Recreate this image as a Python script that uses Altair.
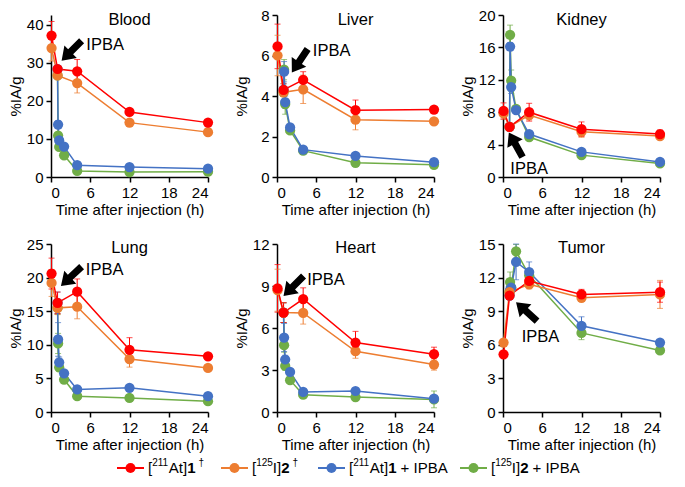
import altair as alt
import pandas as pd

FONT = "Liberation Sans"

SERIES = ["At1", "I2", "At1+IPBA", "I2+IPBA"]
COLORS = ["#FF0000", "#ED7D31", "#4472C4", "#70AD47"]

# time points (h)
T_CTRL = [0.083, 1, 4, 12, 24]
T_IPBA = [1, 1.083, 1.25, 2, 4, 12, 24]

# ---------------- data (%IA/g, mean and SD) ----------------
blood_at = [37.2, 28.4, 27.8, 17.1, 14.3]
blood_at_sd = [3.7, 0.9, 3.1, 0.9, 0.5]
blood_i = [33.9, 26.7, 24.7, 14.3, 11.8]
blood_i_sd = [3.4, 0.8, 2.6, 0.8, 0.4]
blood_at_ipba = [28.4, 13.8, 9.6, 8.0, 3.1, 2.6, 2.2]
blood_at_ipba_sd = [0.9, 1.0, 0.8, 0.6, 0.4, 0.3, 0.2]
blood_i_ipba = [26.7, 10.9, 7.9, 5.7, 1.6, 1.3, 1.4]
blood_i_ipba_sd = [0.8, 0.9, 0.6, 0.5, 0.2, 0.2, 0.1]

liver_at = [6.45, 4.3, 4.8, 3.3, 3.33]
liver_at_sd = [1.1, 0.3, 0.4, 0.5, 0.1]
liver_i = [6.0, 4.18, 4.33, 2.83, 2.75]
liver_i_sd = [1.0, 0.2, 0.7, 0.5, 0.1]
liver_at_ipba = [4.3, 5.2, 3.7, 2.45, 1.35, 1.04, 0.73]
liver_at_ipba_sd = [0.3, 0.5, 0.3, 0.15, 0.1, 0.1, 0.1]
liver_i_ipba = [4.18, 5.3, 3.6, 2.3, 1.3, 0.7, 0.6]
liver_i_ipba_sd = [0.2, 0.5, 0.5, 0.15, 0.1, 0.1, 0.05]

kidney_at = [8.15, 6.2, 8.0, 5.9, 5.3]
kidney_at_sd = [1.0, 0.3, 1.1, 0.9, 0.5]
kidney_i = [7.85, 6.2, 7.65, 5.6, 5.05]
kidney_i_sd = [0.7, 0.3, 0.6, 0.7, 0.4]
kidney_at_ipba = [6.2, 16.1, 11.1, 8.27, 5.3, 3.1, 1.86]
kidney_at_ipba_sd = [0.3, 0.5, 0.8, 0.4, 0.3, 0.2, 0.1]
kidney_i_ipba = [6.2, 17.55, 11.9, 8.4, 4.93, 2.7, 1.67]
kidney_i_ipba_sd = [0.3, 1.2, 1.3, 0.4, 0.3, 0.2, 0.1]

lung_at = [20.6, 16.25, 17.9, 9.26, 8.28]
lung_at_sd = [2.3, 1.6, 1.9, 1.8, 0.3]
lung_i = [19.2, 15.5, 15.67, 7.88, 6.55]
lung_i_sd = [2.0, 1.0, 1.8, 1.2, 0.3]
lung_at_ipba = [16.25, 10.8, 7.4, 5.76, 3.35, 3.6, 2.36]
lung_at_ipba_sd = [1.6, 2.5, 0.8, 0.4, 0.3, 0.3, 0.2]
lung_i_ipba = [15.5, 10.2, 6.65, 4.83, 2.36, 2.1, 1.6]
lung_i_ipba_sd = [1.0, 1.5, 0.6, 0.4, 0.2, 0.2, 0.1]

heart_at = [8.83, 7.1, 8.07, 4.96, 4.13]
heart_at_sd = [1.7, 0.7, 0.8, 0.8, 0.5]
heart_i = [8.7, 7.1, 7.08, 4.34, 3.39]
heart_i_sd = [1.5, 0.7, 0.8, 0.5, 0.4]
heart_at_ipba = [7.1, 5.32, 3.75, 2.86, 1.43, 1.5, 0.95]
heart_at_ipba_sd = [0.7, 1.0, 0.3, 0.2, 0.1, 0.1, 0.2]
heart_i_ipba = [7.1, 4.77, 3.29, 2.27, 1.24, 1.07, 0.9]
heart_i_ipba_sd = [0.7, 0.5, 0.3, 0.2, 0.1, 0.1, 0.6]

tumor_at = [5.15, 10.4, 11.7, 10.5, 10.7]
tumor_at_sd = [0.2, 0.3, 0.5, 0.45, 0.9]
tumor_i = [6.2, 10.7, 11.4, 10.2, 10.5]
tumor_i_sd = [0.3, 0.4, 0.4, 0.3, 1.25]
tumor_at_ipba = [10.4, 10.9, 11.1, 13.4, 12.5, 7.7, 6.2]
tumor_at_ipba_sd = [0.3, 0.6, 0.5, 1.6, 0.9, 0.8, 0.2]
tumor_i_ipba = [10.7, 11.6, 11.1, 14.35, 12.2, 7.06, 5.5]
tumor_i_ipba_sd = [0.4, 0.9, 0.6, 0.6, 0.5, 0.6, 0.2]

# panel: name, y max, y ticks, series, arrow (t, v, angle), label (t, v, align)
PANELS = [
    ("Blood", 42.6, [0, 10, 20, 30, 40],
     [(blood_at, blood_at_sd), (blood_i, blood_i_sd), (blood_at_ipba, blood_at_ipba_sd), (blood_i_ipba, blood_i_ipba_sd)],
     (3.15, 33.2, 225), (5.4, 34.7, "left")),
    ("Liver", 8, [0, 2, 4, 6, 8],
     [(liver_at, liver_at_sd), (liver_i, liver_i_sd), (liver_at_ipba, liver_at_ipba_sd), (liver_i_ipba, liver_i_ipba_sd)],
     (3.48, 5.74, 214), (5.48, 6.2, "left")),
    ("Kidney", 20, [0, 4, 8, 12, 16, 20],
     [(kidney_at, kidney_at_sd), (kidney_i, kidney_i_sd), (kidney_at_ipba, kidney_at_ipba_sd), (kidney_i_ipba, kidney_i_ipba_sd)],
     (1.94, 3.98, 331), (4.0, 0.94, "center")),
    ("Lung", 25, [0, 5, 10, 15, 20, 25],
     [(lung_at, lung_at_sd), (lung_i, lung_i_sd), (lung_at_ipba, lung_at_ipba_sd), (lung_i_ipba, lung_i_ipba_sd)],
     (3.1, 20.2, 227), (5.33, 21.15, "left")),
    ("Heart", 12, [0, 3, 6, 9, 12],
     [(heart_at, heart_at_sd), (heart_i, heart_i_sd), (heart_at_ipba, heart_at_ipba_sd), (heart_i_ipba, heart_i_ipba_sd)],
     (2.53, 9.0, 225), (4.62, 9.43, "left")),
    ("Tumor", 15, [0, 3, 6, 9, 12, 15],
     [(tumor_at, tumor_at_sd), (tumor_i, tumor_i_sd), (tumor_at_ipba, tumor_at_ipba_sd), (tumor_i_ipba, tumor_i_ipba_sd)],
     (3.6, 8.96, 312), (5.74, 6.7, "center")),
]

ARROW = "M0,-1L0.62,-0.1L0.25,-0.1L0.25,1L-0.25,1L-0.25,-0.1L-0.62,-0.1Z"

W = 157


def long_df(vals):
    rows = []
    for s_idx in [3, 2, 1, 0]:
        times = T_CTRL if s_idx < 2 else T_IPBA
        v, sd = vals[s_idx]
        for t, y, e in zip(times, v, sd):
            rows.append(dict(series=SERIES[s_idx], t=t, v=y, lo=y - e, hi=y + e, k=len(rows)))
    return pd.DataFrame(rows)


def panel(name, ymax, yticks, vals, arrow, label, h, title_y, spacer):
    df = long_df(vals)
    xs = alt.Scale(domain=[0, 24], nice=False, zero=True)
    ys = alt.Scale(domain=[0, ymax], nice=False, zero=True)
    xaxis = alt.Axis(values=[0, 6, 12, 18, 24], title="Time after injection (h)",
                     labelPadding=3, titlePadding=2)
    yaxis = alt.Axis(values=yticks, title="%IA/g", labelPadding=3, titlePadding=3,
                     minExtent=25, maxExtent=25)
    color = alt.Color("series:N", scale=alt.Scale(domain=SERIES, range=COLORS), legend=None)

    def X(f="t"):
        return alt.X(f + ":Q", scale=xs, axis=xaxis)

    def Y(f="v"):
        return alt.Y(f + ":Q", scale=ys, axis=yaxis)

    base = alt.Chart(df)
    err = base.mark_rule(strokeWidth=1).encode(x=X(), y=Y("lo"), y2="hi:Q", color=color)
    cap_hi = base.mark_tick(orient="horizontal", size=6, thickness=1).encode(x=X(), y=Y("hi"), color=color)
    cap_lo = base.mark_tick(orient="horizontal", size=6, thickness=1).encode(x=X(), y=Y("lo"), color=color)
    line = base.mark_line(strokeWidth=1.5).encode(x=X(), y=Y(), color=color, order="t:Q")
    pts = base.mark_point(filled=True, size=105, opacity=1).encode(x=X(), y=Y(), color=color, order="k:Q")

    adf = pd.DataFrame({"t": [arrow[0]], "v": [arrow[1]]})
    arr = alt.Chart(adf).mark_point(shape=ARROW, size=800, filled=True, color="black",
                                    opacity=1, angle=arrow[2]).encode(x=X(), y=Y())
    ldf = pd.DataFrame({"t": [label[0]], "v": [label[1]], "txt": ["IPBA"]})
    lab = alt.Chart(ldf).mark_text(font=FONT, fontSize=16.5, align=label[2], baseline="middle",
                                   color="black").encode(x=X(), y=Y(), text="txt:N")
    tdf = pd.DataFrame({"txt": [name]})
    ttl = alt.Chart(tdf).mark_text(font=FONT, fontSize=16.5, align="center", baseline="middle",
                                   color="black").encode(x=alt.value(W / 2), y=alt.value(title_y), text="txt:N")
    layers = [err, cap_hi, cap_lo, line, pts, arr, lab, ttl]
    if spacer:
        sp = alt.Chart(pd.DataFrame({"txt": ["|"]})).mark_text(
            font=FONT, fontSize=12, baseline="top", opacity=0).encode(
            x=alt.value(W / 2), y=alt.value(-spacer), text="txt:N")
        layers.append(sp)
    return alt.layer(*layers).properties(width=W, height=h)


panels = []
for i, (name, ymax, yt, vals, arrow, label) in enumerate(PANELS):
    top = i < 3
    panels.append(panel(name, ymax, yt, vals, arrow, label,
                        162 if top else 168, 5 if top else 4, 0 if top else 20))

row1 = alt.hconcat(*panels[:3], spacing=20)
row2 = alt.hconcat(*panels[3:], spacing=20)

# ---------------- legend (manual, with superscripts and bold) ----------------
LEG_PREFIX = ["[", "[", "[", "["]
LEG_SUP = ["211", "125", "211", "125"]
LEG_MID = ["At]", "I]", "At]", "I]"]
LEG_BOLD = ["1", "2", "1", "2"]
LEG_TAIL = ["†", "†", "+ IPBA", "+ IPBA"]

AW = {"[": 278, "]": 278, "A": 667, "t": 278, "I": 278, " ": 278, "+": 584, "P": 667,
      "B": 667, "†": 556}


def tw(s, size):
    return sum(AW.get(c, 556) for c in s) * size / 1000.0


LEG_X0 = [97, 201, 298, 440]   # start of text for each item (legend-local px)
NS, SS = 15, 10
sym_rows, txt_norm, txt_sup, txt_bold = [], [], [], []
for i in range(4):
    x = LEG_X0[i]
    sym_rows.append(dict(x1=x - 31, x2=x - 4, xc=x - 17.5, c=SERIES[i]))
    txt_norm.append(dict(x=x, s=LEG_PREFIX[i]))
    x += tw(LEG_PREFIX[i], NS)
    txt_sup.append(dict(x=x, s=LEG_SUP[i]))
    x += tw(LEG_SUP[i], SS)
    txt_norm.append(dict(x=x, s=LEG_MID[i]))
    x += tw(LEG_MID[i], NS)
    txt_bold.append(dict(x=x, s=LEG_BOLD[i]))
    x += tw(LEG_BOLD[i], NS) + 3
    if LEG_TAIL[i] == "†":
        txt_sup.append(dict(x=x, s=LEG_TAIL[i]))
    else:
        txt_norm.append(dict(x=x + 1, s=LEG_TAIL[i]))

LY = 7
lcolor = alt.Color("c:N", scale=alt.Scale(domain=SERIES, range=COLORS), legend=None)
sym_df = pd.DataFrame(sym_rows)
leg_line = alt.Chart(sym_df).mark_rule(strokeWidth=2).encode(
    x=alt.X("x1:Q", scale=None), x2="x2:Q", y=alt.value(LY), color=lcolor)
leg_pt = alt.Chart(sym_df).mark_point(filled=True, size=100, opacity=1).encode(
    x=alt.X("xc:Q", scale=None), y=alt.value(LY), color=lcolor)
leg_n = alt.Chart(pd.DataFrame(txt_norm)).mark_text(font=FONT, fontSize=NS, align="left", baseline="middle", color="black").encode(
    x=alt.X("x:Q", scale=None), y=alt.value(LY), text="s:N")
leg_s = alt.Chart(pd.DataFrame(txt_sup)).mark_text(font=FONT, fontSize=SS, align="left", baseline="middle", color="black").encode(
    x=alt.X("x:Q", scale=None), y=alt.value(LY - 5), text="s:N")
leg_b = alt.Chart(pd.DataFrame(txt_bold)).mark_text(font=FONT, fontSize=NS, fontWeight="bold", align="left", baseline="middle", color="black").encode(
    x=alt.X("x:Q", scale=None), y=alt.value(LY), text="s:N")
legend = alt.layer(leg_line, leg_pt, leg_n, leg_s, leg_b).properties(width=560, height=14)

chart = alt.vconcat(row1, row2, legend, spacing=6).properties(
    padding=0
).configure_view(stroke=None).configure_axis(
    domainColor="black", domainWidth=1.5, tickColor="black", tickWidth=1.5, tickSize=5,
    labelFont=FONT, labelFontSize=15, labelColor="black",
    titleFont=FONT, titleFontSize=15, titleFontWeight="normal", titleColor="black", grid=False
)

chart.save("out.html", embed_options={"renderer": "svg", "actions": False})
